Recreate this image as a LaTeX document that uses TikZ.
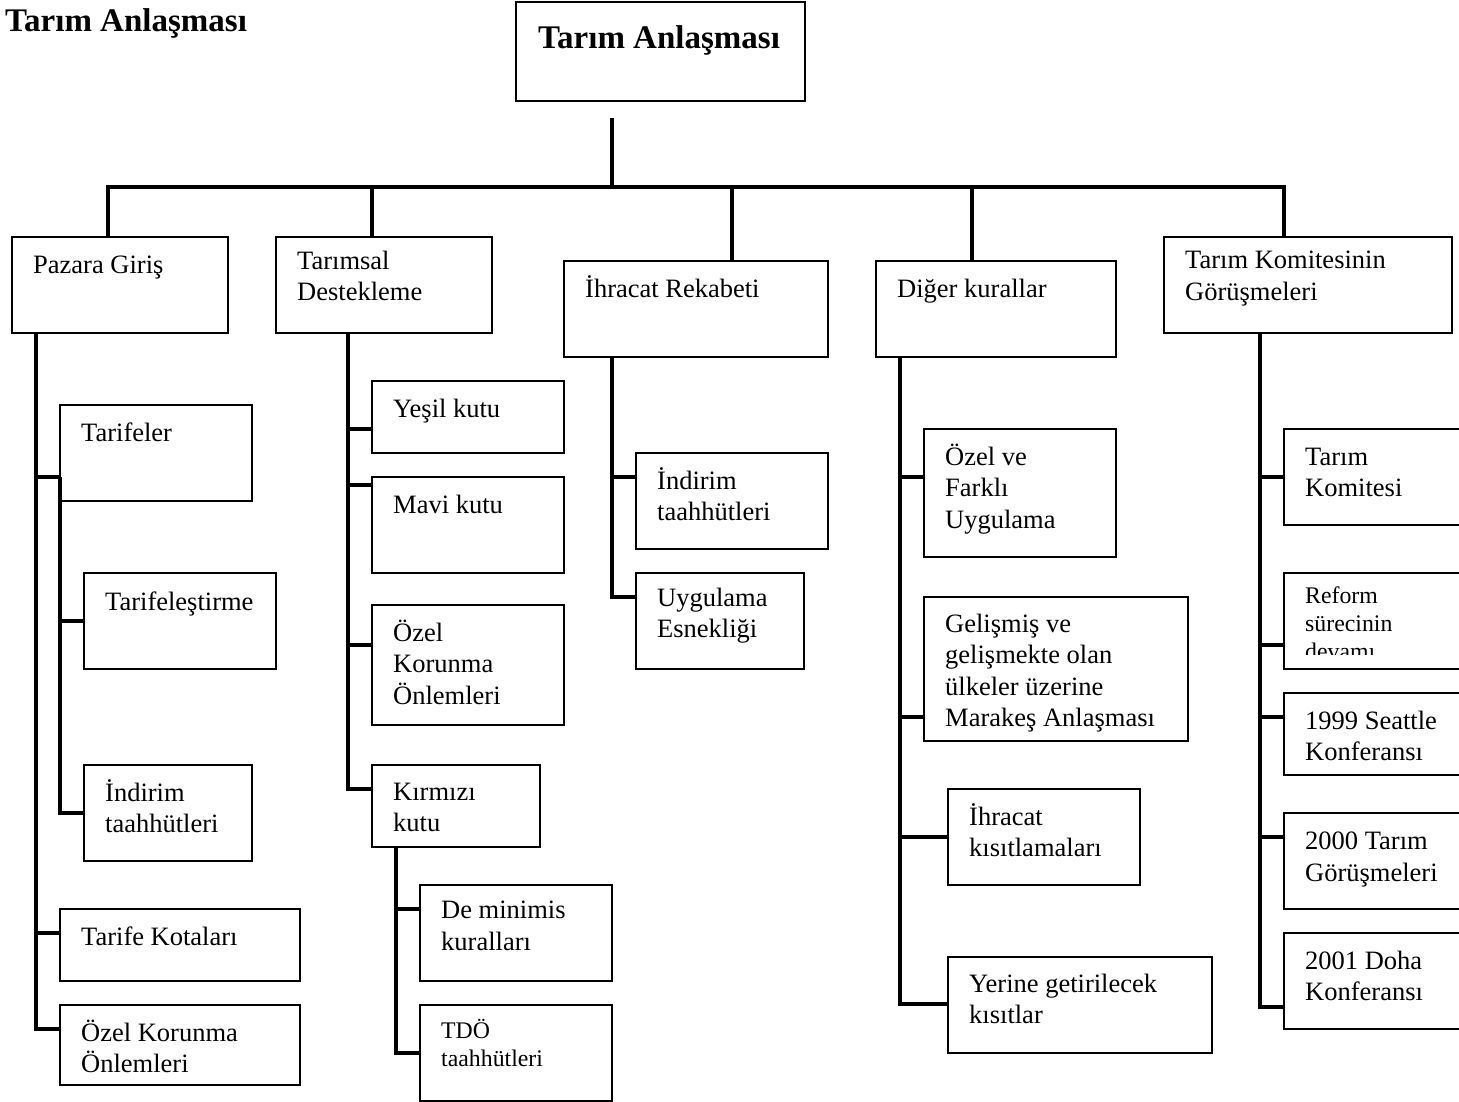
\documentclass[tikz,border=0pt]{standalone}
\usepackage{fontspec}
\setmainfont{Liberation Serif}
\usetikzlibrary{calc}
\newcommand\regfont{\fontsize{26.5}{31.3}\selectfont}
\newcommand\smallfont{\fontsize{23.8}{27.6}\selectfont}
\newcommand\headfont{\fontsize{33}{38}\selectfont\bfseries}
\begin{document}
\begin{tikzpicture}[x=1pt, y=-1pt,
    card/.style={draw, line width=1.6pt, inner sep=0pt, outer sep=0pt, anchor=north west},
    txt/.style={inner sep=0pt, anchor=north west, align=left, font=\regfont, execute at begin node=\strut},
    smalltxt/.style={txt, font=\smallfont},
    link/.style={line width=4pt}]
  \useasboundingbox (0,0) rectangle (1459,1102);
  \clip (0,0) rectangle (1459,1102);

  % title and root
  \node[font=\headfont, inner sep=0pt, anchor=base west] (title) at (5,32) {Tarım Anlaşması};
  \node[card, minimum width=289pt, minimum height=99pt] (root) at (516,2) {};
  \node[txt, font=\headfont] (root-t) at ($(root.north west)+(22,20)$) {Tarım Anlaşması};

  % first level
  \node[card, minimum width=216pt, minimum height=96pt] (pg) at (12,237) {};
  \node[txt] (pg-t) at ($(pg.north west)+(21,14)$) {Pazara Giriş};
  \node[card, minimum width=216pt, minimum height=96pt] (td) at (276,237) {};
  \node[txt] (td-t) at ($(td.north west)+(21,14)$) {Tarımsal\\Destekleme};
  \node[card, minimum width=264pt, minimum height=96pt] (ir) at (564,261) {};
  \node[txt] (ir-t) at ($(ir.north west)+(21,14)$) {İhracat Rekabeti};
  \node[card, minimum width=240pt, minimum height=96pt] (dk) at (876,261) {};
  \node[txt] (dk-t) at ($(dk.north west)+(21,14)$) {Diğer kurallar};
  \node[card, minimum width=288pt, minimum height=96pt] (tk) at (1164,237) {};
  \node[txt] (tk-t) at ($(tk.north west)+(21,14)$) {Tarım Komitesinin\\Görüşmeleri};

  % Pazara Giriş
  \node[card, minimum width=192pt, minimum height=96pt] (tarifeler) at (60,405) {};
  \node[txt] (tarifeler-t) at ($(tarifeler.north west)+(21,14)$) {Tarifeler};
  \node[card, minimum width=192pt, minimum height=96pt] (tarifelestirme) at (84,573) {};
  \node[txt] (tarifelestirme-t) at ($(tarifelestirme.north west)+(21,15)$) {Tarifeleştirme};
  \node[card, minimum width=168pt, minimum height=96pt] (pgindirim) at (84,765) {};
  \node[txt] (pgindirim-t) at ($(pgindirim.north west)+(21,14)$) {İndirim\\taahhütleri};
  \node[card, minimum width=240pt, minimum height=72pt] (kotalar) at (60,909) {};
  \node[txt] (kotalar-t) at ($(kotalar.north west)+(21,14)$) {Tarife Kotaları};
  \node[card, minimum width=240pt, minimum height=80pt] (pgozel) at (60,1005) {};
  \node[txt] (pgozel-t) at ($(pgozel.north west)+(21,15)$) {Özel Korunma\\Önlemleri};

  % Tarımsal Destekleme
  \node[card, minimum width=192pt, minimum height=72pt] (yesil) at (372,381) {};
  \node[txt] (yesil-t) at ($(yesil.north west)+(21,14)$) {Yeşil kutu};
  \node[card, minimum width=192pt, minimum height=96pt] (mavi) at (372,477) {};
  \node[txt] (mavi-t) at ($(mavi.north west)+(21,14)$) {Mavi kutu};
  \node[card, minimum width=192pt, minimum height=120pt] (tdozel) at (372,605) {};
  \node[txt] (tdozel-t) at ($(tdozel.north west)+(21,15)$) {Özel\\Korunma\\Önlemleri};
  \node[card, minimum width=168pt, minimum height=82pt] (kirmizi) at (372,765) {};
  \node[txt] (kirmizi-t) at ($(kirmizi.north west)+(21,18)$) {Kırmızı\\kutu};
  \node[card, minimum width=192pt, minimum height=96pt] (deminimis) at (420,885) {};
  \node[txt] (deminimis-t) at ($(deminimis.north west)+(21,16)$) {De minimis\\kuralları};
  \node[card, minimum width=192pt, minimum height=96pt] (tdo) at (420,1005) {};
  \node[smalltxt] (tdo-t) at ($(tdo.north west)+(21,14)$) {TDÖ\\taahhütleri};

  % İhracat Rekabeti
  \node[card, minimum width=192pt, minimum height=96pt] (irindirim) at (636,453) {};
  \node[txt] (irindirim-t) at ($(irindirim.north west)+(21,14)$) {İndirim\\taahhütleri};
  \node[card, minimum width=168pt, minimum height=96pt] (esneklik) at (636,573) {};
  \node[txt] (esneklik-t) at ($(esneklik.north west)+(21,15)$) {Uygulama\\Esnekliği};

  % Diğer kurallar
  \node[card, minimum width=192pt, minimum height=128pt] (ozelfarkli) at (924,429) {};
  \node[txt] (ozelfarkli-t) at ($(ozelfarkli.north west)+(21,15)$) {Özel ve\\Farklı\\Uygulama};
  \node[card, minimum width=264pt, minimum height=144pt] (marakes) at (924,597) {};
  \node[txt] (marakes-t) at ($(marakes.north west)+(21,17)$) {Gelişmiş ve\\gelişmekte olan\\ülkeler üzerine\\Marakeş Anlaşması};
  \node[card, minimum width=192pt, minimum height=96pt] (ihkisit) at (948,789) {};
  \node[txt] (ihkisit-t) at ($(ihkisit.north west)+(21,14)$) {İhracat\\kısıtlamaları};
  \node[card, minimum width=264pt, minimum height=96pt] (yerine) at (948,957) {};
  \node[txt] (yerine-t) at ($(yerine.north west)+(21,17)$) {Yerine getirilecek\\kısıtlar};

  % Tarım Komitesinin Görüşmeleri
  \node[card, minimum width=200pt, minimum height=96pt] (komite) at (1284,429) {};
  \node[txt] (komite-t) at ($(komite.north west)+(21,19)$) {Tarım\\Komitesi};
  \node[card, minimum width=200pt, minimum height=96pt] (reform) at (1284,573) {};
  \begin{scope}
    \clip (reform.north west) rectangle ($(reform.south east)+(0,-15)$);
    \node[smalltxt] (reform-t) at ($(reform.north west)+(21,14)$) {Reform\\sürecinin\\devamı};
  \end{scope}
  \node[card, minimum width=200pt, minimum height=82pt] (seattle) at (1284,693) {};
  \node[txt] (seattle-t) at ($(seattle.north west)+(21,18)$) {1999 Seattle\\Konferansı};
  \node[card, minimum width=200pt, minimum height=96pt] (gorusme) at (1284,813) {};
  \node[txt] (gorusme-t) at ($(gorusme.north west)+(21,19)$) {2000 Tarım\\Görüşmeleri};
  \node[card, minimum width=200pt, minimum height=96pt] (doha) at (1284,933) {};
  \node[txt] (doha-t) at ($(doha.north west)+(21,18)$) {2001 Doha\\Konferansı};

  % connectors from the root
  \coordinate (hub) at (612,187);
  \draw[link] ($(root.south west)+(96,17)$) -- (hub);
  \draw[link] (hub) -| ($(pg.north west)+(96,0)$);
  \draw[link] (hub) -| ($(td.north west)+(96,0)$);
  \draw[link] (hub) -| ($(ir.north west)+(168,0)$);
  \draw[link] (hub) -| ($(dk.north west)+(96,0)$);
  \draw[link] (hub) -| ($(tk.north west)+(120,0)$);

  % Pazara Giriş branches
  \coordinate (pg-trunk) at ($(pg.south west)+(24,0)$);
  \draw[link] (pg-trunk) |- ($(tarifeler.north west)+(0,72)$);
  \draw[link] (pg-trunk) |- ($(kotalar.north west)+(0,24)$);
  \draw[link] (pg-trunk) |- ($(pgozel.north west)+(0,24)$);
  \coordinate (tf-trunk) at ($(tarifeler.north west)+(0,72)$);
  \draw[link] (tf-trunk) |- ($(tarifelestirme.north west)+(0,48)$);
  \draw[link] (tf-trunk) |- ($(pgindirim.north west)+(0,48)$);

  % Tarımsal Destekleme branches
  \coordinate (td-trunk) at ($(td.south west)+(72,0)$);
  \draw[link] (td-trunk) |- ($(yesil.north west)+(0,48)$);
  \draw[link] (td-trunk) |- ($(mavi.north west)+(0,8)$);
  \draw[link] (td-trunk) |- ($(tdozel.north west)+(0,40)$);
  \draw[link] (td-trunk) |- ($(kirmizi.north west)+(0,24)$);
  \coordinate (kk-trunk) at ($(kirmizi.south west)+(24,0)$);
  \draw[link] (kk-trunk) |- ($(deminimis.north west)+(0,24)$);
  \draw[link] (kk-trunk) |- ($(tdo.north west)+(0,48)$);

  % İhracat Rekabeti branches
  \coordinate (ir-trunk) at ($(ir.south west)+(48,0)$);
  \draw[link] (ir-trunk) |- ($(irindirim.north west)+(0,24)$);
  \draw[link] (ir-trunk) |- ($(esneklik.north west)+(0,24)$);

  % Diğer kurallar branches
  \coordinate (dk-trunk) at ($(dk.south west)+(24,0)$);
  \draw[link] (dk-trunk) |- ($(ozelfarkli.north west)+(0,48)$);
  \draw[link] (dk-trunk) |- ($(marakes.north west)+(0,120)$);
  \draw[link] (dk-trunk) |- ($(ihkisit.north west)+(0,48)$);
  \draw[link] (dk-trunk) |- ($(yerine.north west)+(0,47)$);

  % Tarım Komitesinin Görüşmeleri branches
  \coordinate (tk-trunk) at ($(tk.south west)+(96,0)$);
  \draw[link] (tk-trunk) |- ($(komite.north west)+(0,48)$);
  \draw[link] (tk-trunk) |- ($(reform.north west)+(0,72)$);
  \draw[link] (tk-trunk) |- ($(seattle.north west)+(0,24)$);
  \draw[link] (tk-trunk) |- ($(gorusme.north west)+(0,24)$);
  \draw[link] (tk-trunk) |- ($(doha.north west)+(0,74)$);
\end{tikzpicture}
\end{document}
